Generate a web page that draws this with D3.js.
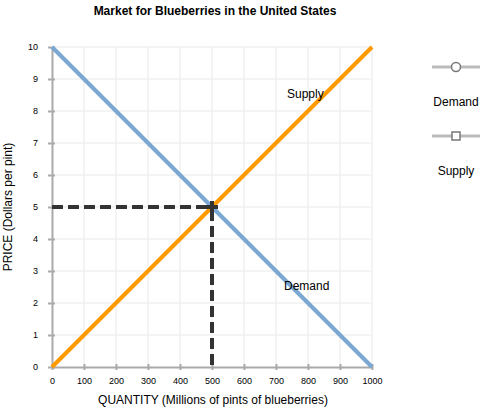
<!DOCTYPE html>
<html lang="en">
<head>
<meta charset="UTF-8">
<title>Market for Blueberries</title>
<script src="https://d3js.org/d3.v7.min.js"></script>
<style>
  body { margin: 0; background: #fff; }
  text { font-family: "Liberation Sans", Arial, sans-serif; fill: #000; }
</style>
</head>
<body>
<script>
// Data
const demandPts = [{ q: 0, p: 10 }, { q: 1000, p: 0 }];
const supplyPts = [{ q: 0, p: 0 }, { q: 1000, p: 10 }];
const equilibrium = { q: 500, p: 5 };
const xTicks = [0, 100, 200, 300, 400, 500, 600, 700, 800, 900, 1000];
const yTicks = [0, 1, 2, 3, 4, 5, 6, 7, 8, 9, 10];

const W = 495, H = 418;
const plot = { left: 52, right: 372, top: 47, bottom: 367 };

const svg = d3.select('body').append('svg')
  .attr('width', W).attr('height', H);

const x = d3.scaleLinear().domain([0, 1000]).range([plot.left, plot.right]);
const y = d3.scaleLinear().domain([0, 10]).range([plot.bottom, plot.top]);

// Title
svg.append('text')
  .attr('x', 215).attr('y', 15)
  .attr('text-anchor', 'middle')
  .style('font-size', '12px').style('font-weight', 'bold')
  .text('Market for Blueberries in the United States');

// Grid
svg.append('g').selectAll('line').data(xTicks.slice(1)).enter().append('line')
  .attr('x1', d => x(d)).attr('x2', d => x(d))
  .attr('y1', plot.top).attr('y2', plot.bottom)
  .attr('stroke', '#f0f0f0').attr('stroke-width', 1.5);
svg.append('g').selectAll('line').data(yTicks.slice(1)).enter().append('line')
  .attr('y1', d => y(d)).attr('y2', d => y(d))
  .attr('x1', plot.left).attr('x2', plot.right)
  .attr('stroke', '#f0f0f0').attr('stroke-width', 1.5);

// Axes
const xAxis = svg.append('g')
  .attr('transform', 'translate(0,' + plot.bottom + ')')
  .call(d3.axisBottom(x).tickValues(xTicks).tickFormat(d3.format('d'))
    .tickSize(0).tickPadding(11));
const yAxis = svg.append('g')
  .attr('transform', 'translate(' + plot.left + ',0)')
  .call(d3.axisLeft(y).tickValues(yTicks).tickSize(0).tickPadding(14));
[xAxis, yAxis].forEach(a => {
  a.select('.domain').attr('stroke', '#aaa').attr('stroke-width', 2);
  a.selectAll('text').style('font-size', '9px').attr('fill', '#000');
});
xAxis.selectAll('.tick').append('line')
  .attr('y1', -3).attr('y2', 3).attr('stroke', '#aaa').attr('stroke-width', 2);
yAxis.selectAll('.tick').append('line')
  .attr('x1', -4).attr('x2', 3).attr('stroke', '#aaa').attr('stroke-width', 2);

// Axis titles
svg.append('text')
  .attr('x', 213).attr('y', 404)
  .attr('text-anchor', 'middle')
  .style('font-size', '12px')
  .text('QUANTITY (Millions of pints of blueberries)');
svg.append('text')
  .attr('transform', 'translate(12,' + y(5) + ') rotate(-90)')
  .attr('text-anchor', 'middle')
  .style('font-size', '12px')
  .text('PRICE (Dollars per pint)');

const line = d3.line().x(d => x(d.q)).y(d => y(d.p));

// Curves
svg.append('path').datum(demandPts).attr('d', line)
  .attr('fill', 'none').attr('stroke', '#7aa8d3').attr('stroke-width', 4);
svg.append('path').datum(supplyPts).attr('d', line)
  .attr('fill', 'none').attr('stroke', '#ff9900').attr('stroke-width', 4);

// Equilibrium dashed lines
svg.append('path')
  .datum([{ q: 0, p: equilibrium.p }, equilibrium])
  .attr('d', line)
  .attr('fill', 'none').attr('stroke', '#333').attr('stroke-width', 4)
  .attr('stroke-dasharray', '11,5');
svg.append('path')
  .datum([equilibrium, { q: equilibrium.q, p: 0 }])
  .attr('d', line)
  .attr('fill', 'none').attr('stroke', '#333').attr('stroke-width', 4)
  .attr('stroke-dasharray', '11,5').attr('stroke-dashoffset', -3);
// cross marker at equilibrium
const ex = x(equilibrium.q), ey = y(equilibrium.p);
svg.append('path')
  .attr('d', `M${ex - 6},${ey}H${ex + 6}M${ex},${ey - 6}V${ey + 6}`)
  .attr('stroke', '#333').attr('stroke-width', 4);

// Curve labels
svg.append('text').attr('x', 287).attr('y', 98)
  .style('font-size', '12px').text('Supply');
svg.append('text').attr('x', 284).attr('y', 290)
  .style('font-size', '12px').text('Demand');

// Legend
const legend = [
  { name: 'Demand', shape: 'circle', y: 67 },
  { name: 'Supply', shape: 'square', y: 136 }
];
const lg = svg.append('g');
legend.forEach(d => {
  lg.append('line')
    .attr('x1', 432).attr('x2', 480).attr('y1', d.y).attr('y2', d.y)
    .attr('stroke', '#bbb').attr('stroke-width', 3);
  if (d.shape === 'circle') {
    lg.append('circle').attr('cx', 456).attr('cy', d.y).attr('r', 4.5)
      .attr('fill', '#fff').attr('stroke', '#777').attr('stroke-width', 1.5);
  } else {
    lg.append('rect').attr('x', 452).attr('y', d.y - 4).attr('width', 8).attr('height', 8)
      .attr('fill', '#fff').attr('stroke', '#777').attr('stroke-width', 1.5);
  }
  lg.append('text').attr('x', 456).attr('y', d.y + 39)
    .attr('text-anchor', 'middle').style('font-size', '12px').text(d.name);
});
</script>
</body>
</html>
